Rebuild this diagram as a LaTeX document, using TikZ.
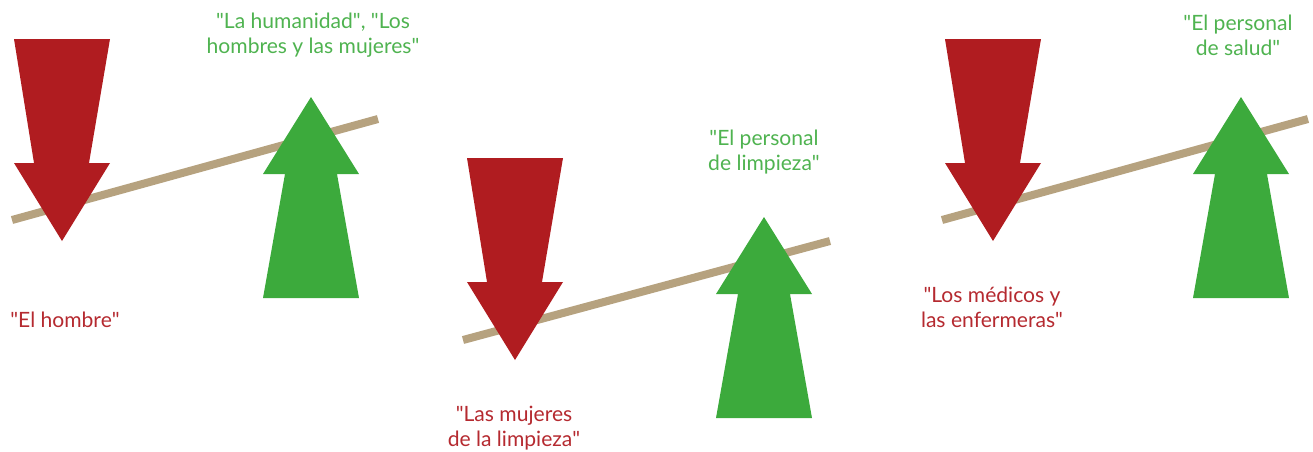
\documentclass[tikz,border=0pt]{standalone}
\usepackage{fontspec}
\setmainfont{Lato}
\definecolor{arrowred}{HTML}{B01C20}
\definecolor{arrowgreen}{HTML}{3CAA3C}
\definecolor{textred}{HTML}{B52A30}
\definecolor{textgreen}{HTML}{4FB350}
\definecolor{beamtan}{HTML}{B6A27F}
\newcommand{\qt}{\textquotedbl}
\tikzset{
	beam/.style={line width=0.16cm,beamtan},
	label/.style={inner sep=0pt,align=center,font=\fontsize{12}{14.3}\selectfont},
	good/.style={label,textgreen},
	bad/.style={label,textred}
}
\begin{document}
\begin{tikzpicture}[x=0.02cm,y=-0.02cm]
	\useasboundingbox (0,0) rectangle (1313,451);
	
	% beams
	\draw[beam](12,220)--(378,119);
	\draw[beam](463,340)--(830,241);
	\draw[beam](942,220)--(1308,119);
	
	% red arrows, tip at (\x,\y)
	\foreach \x/\y in {62/241,515/360,993/241}
	\fill[arrowred,shift={(\x,\y)}](0,0)--(-48,-78)--(-28,-78)--(-48,-202)--(48,-202)--(27,-78)--(48,-78)--cycle;
	
	% green arrows, tip at (\x,\y)
	\foreach \x/\y in {311/97,764/217,1241/97}
	\fill[arrowgreen,shift={(\x,\y)}](0,0)--(-48,77)--(-26,77)--(-48,201)--(48,201)--(26,77)--(48,77)--cycle;
	
	\node[good] (human) at (313,35) {\qt La humanidad\qt, \qt Los\\hombres y las mujeres\qt};
	\node[bad] (man) at (65,320) {\qt El hombre\qt};
	\node[good] (cleanstaff) at (764,152) {\qt El personal\\de limpieza\qt};
	\node[bad] (cleanwomen) at (514,428) {\qt Las mujeres\\de la limpieza\qt};
	\node[good] (healthstaff) at (1238,35) {\qt El personal\\de salud\qt};
	\node[bad] (doctors) at (992,307) {\qt Los médicos y\\las enfermeras\qt};
	
\end{tikzpicture}
\end{document}
